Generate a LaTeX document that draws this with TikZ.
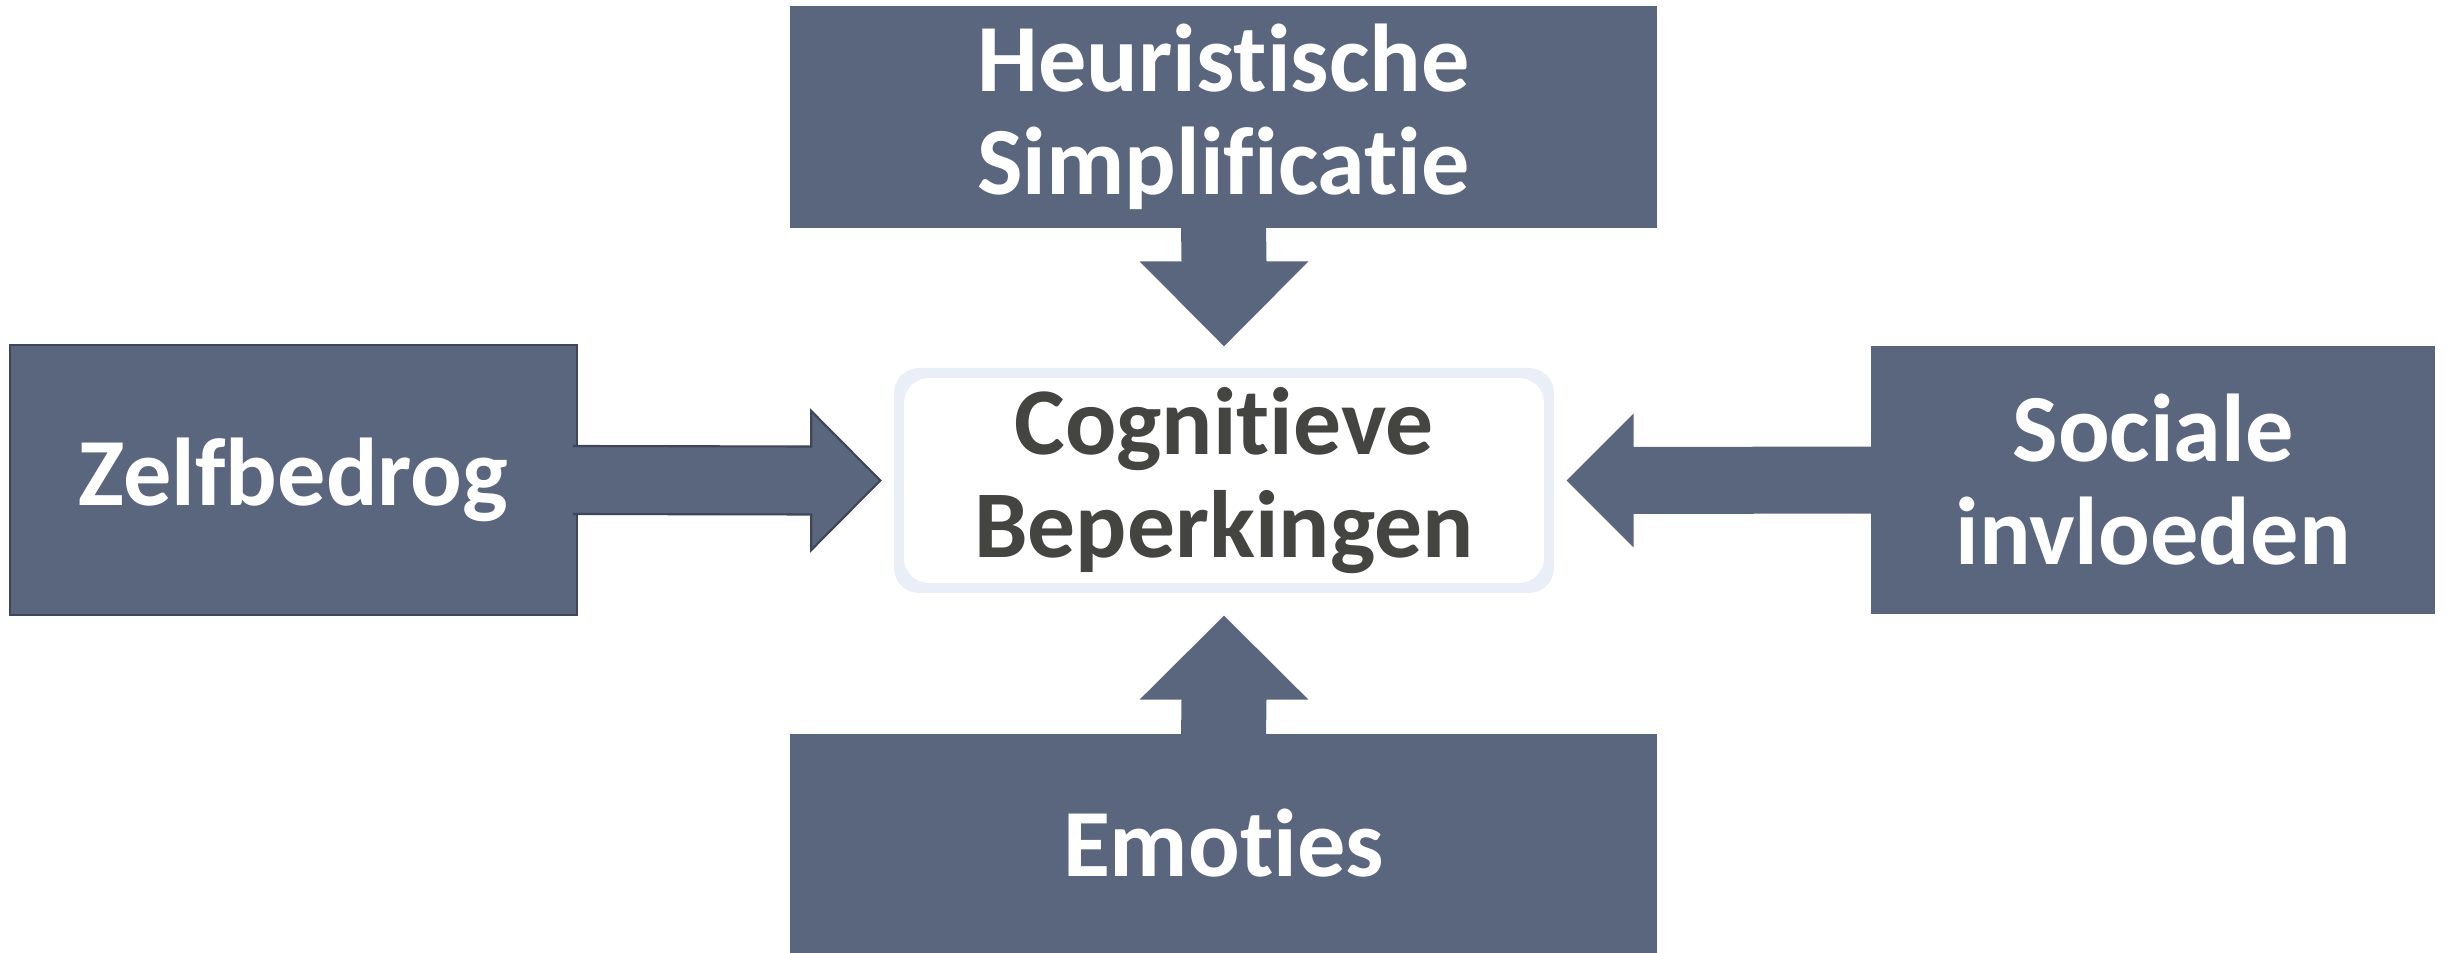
\documentclass[tikz,border=0pt]{standalone}
\usepackage{fontspec}
\setmainfont{Carlito}[Ligatures={NoCommon}]
\definecolor{slateblue}{RGB}{90, 102, 126}
\definecolor{slatedark}{RGB}{62, 70, 88}
\definecolor{paleedge}{RGB}{233, 238, 247}
\definecolor{inkgray}{RGB}{68, 68, 64}
\usetikzlibrary{calc, positioning}

\begin{document}
\begin{tikzpicture}[
    factor/.style={fill=slateblue, text=white, align=center, inner sep=0pt,
      font=\fontsize{27.4}{29.3}\selectfont\bfseries},
    blockarrow/.style={fill=slateblue},
    core/.style={fill=paleedge, rounded corners=0.25cm, align=center, inner sep=0pt,
      text=inkgray, font=\fontsize{27.2}{29.3}\selectfont\bfseries,
      path picture={\fill[white] ($(path picture bounding box.north west)+(0.1,-0.1)$)
        rectangle ($(path picture bounding box.south east)+(-0.1,0.1)$);}}
  ]
  \useasboundingbox (0, 0) rectangle (24.47, -9.53);

  % ===== Centre =====
  \node[core, minimum width=6.6cm, minimum height=2.25cm] (cog) at (12.24, -4.805) {Cognitieve\\Beperkingen};

  % ===== Factors =====
  \node[factor, minimum width=8.67cm, minimum height=2.22cm] (heur) at (12.235, -1.17) {Heuristische\\Simplificatie};
  \node[factor, draw=slatedark, line width=0.6pt, minimum width=5.67cm, minimum height=2.70cm] (zelf) at (2.935, -4.80) {Zelfbedrog};
  \node[factor, minimum width=5.64cm, minimum height=2.68cm] (soc) at (21.53, -4.80) {Sociale\\invloeden};
  \node[factor, minimum width=8.67cm, minimum height=2.19cm] (emo) at (12.235, -8.435) {Emoties};

  % ===== Block arrows =====
  % top
  \fill[blockarrow] ($(heur.south)+(-0.425,0.05)$) -- ($(cog.north)+(-0.425,1.06)$)
    -- ($(cog.north)+(-0.845,1.06)$) -- ($(cog.north)+(0,0.21)$)
    -- ($(cog.north)+(0.845,1.06)$) -- ($(cog.north)+(0.425,1.06)$)
    -- ($(heur.south)+(0.425,0.05)$) -- cycle;
  % bottom
  \fill[blockarrow] ($(emo.north)+(-0.425,-0.05)$) -- ($(cog.south)+(-0.425,-1.06)$)
    -- ($(cog.south)+(-0.845,-1.06)$) -- ($(cog.south)+(0,-0.22)$)
    -- ($(cog.south)+(0.845,-1.06)$) -- ($(cog.south)+(0.425,-1.06)$)
    -- ($(emo.north)+(0.425,-0.05)$) -- cycle;
  % left (outlined, like its box)
  \path[blockarrow, draw=slatedark, line width=0.6pt] ($(zelf.east)+(-0.05,0.34)$) -- ($(cog.west)+(-0.82,0.34)$)
    -- ($(cog.west)+(-0.82,0.695)$) -- ($(cog.west)+(-0.13,0)$)
    -- ($(cog.west)+(-0.82,-0.695)$) -- ($(cog.west)+(-0.82,-0.34)$)
    -- ($(zelf.east)+(-0.05,-0.34)$);
  % right
  \fill[blockarrow] ($(soc.west)+(0.05,0.335)$) -- ($(cog.east)+(0.79,0.335)$)
    -- ($(cog.east)+(0.79,0.67)$) -- ($(cog.east)+(0.12,0)$)
    -- ($(cog.east)+(0.79,-0.67)$) -- ($(cog.east)+(0.79,-0.335)$)
    -- ($(soc.west)+(0.05,-0.335)$) -- cycle;
\end{tikzpicture}
\end{document}
